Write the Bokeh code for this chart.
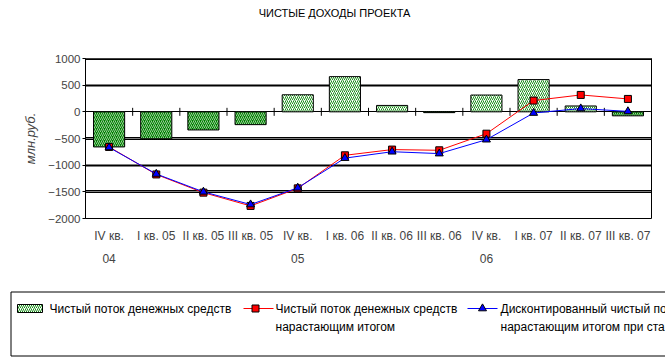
from bokeh.plotting import figure
from bokeh.models import Range1d, FixedTicker
from bokeh.layouts import column, row
from bokeh.embed import file_html
from bokeh.resources import INLINE
from bokeh.core.properties import value

# ---------------- data ----------------
title_text = "ЧИСТЫЕ ДОХОДЫ ПРОЕКТА"
y_label = "млн.руб."
quarters = ["IV кв.\n04", "I кв. 05", "II кв. 05", "III кв. 05",
            "IV кв.\n05", "I кв. 06", "II кв. 06", "III кв. 06",
            "IV кв.\n06", "I кв. 07", "II кв. 07", "III кв. 07"]
cash_flow = [-658, -505, -340, -240, 320, 660, 120, -15, 315, 605, 110, -75]
cumulative = [-658, -1174, -1515, -1764, -1435, -815, -708, -721, -410, 211, 317, 242]
discounted = [-668, -1165, -1500, -1738, -1425, -868, -748, -783, -522, -22, 62, 8]
y_ticks = [1000, 500, 0, -500, -1000, -1500, -2000]
solid_grid = [500, -1000]
dotted_grid = [1000, -500, -1500]
legend_labels = ["Чистый поток денежных средств",
                 "Чистый поток денежных средств\nнарастающим итогом",
                 "Дисконтированный чистый поток денежных средств\nнарастающим итогом при ставке дисконтирования"]

FONT = "Liberation Sans"
GREEN = "#008000"
RED = "#ff0000"
BLUE = "#0000ff"

n = len(quarters)
xs = [i + 0.5 for i in range(n)]
bounds = [i for i in range(1, n)]

W = 665


def blank_fig(h):
    f = figure(width=W, height=h, x_range=Range1d(0, W), y_range=Range1d(h, 0),
               output_backend="svg", toolbar_location=None,
               x_axis_location=None, y_axis_location=None,
               min_border=0, min_border_left=0, min_border_right=0,
               min_border_top=0, min_border_bottom=0)
    f.grid.visible = False
    f.outline_line_color = None
    return f


# ---------------- title ----------------
TH = 40
tf = blank_fig(TH)
tf.text(x=[334], y=[12], text=[title_text], text_font=value(FONT), text_font_size="11px",
        text_align="center", text_baseline="middle", text_color="black")

# ---------------- chart ----------------
CH = 244
p = figure(width=W, height=CH, x_range=Range1d(0, n), y_range=Range1d(-2000, 1000),
           output_backend="svg", toolbar_location=None,
           min_border_left=85, min_border_right=14, min_border_top=18, min_border_bottom=66)
p.grid.visible = False
p.outline_line_color = "black"
p.outline_line_width = 1
p.background_fill_color = "white"

# grid lines
p.hspan(y=dotted_grid, line_color="black", line_width=3)
p.hspan(y=dotted_grid, line_color="white", line_width=1, line_dash="1 1")
p.hspan(y=solid_grid, line_color="black", line_width=2)
p.hspan(y=[0], line_color="black", line_width=1)
p.scatter(x=bounds, y=[0] * len(bounds), marker="dash", angle=1.5708, size=8,
          line_color="black", line_width=1)

# bars
fills = [GREEN if v < 0 else "white" for v in cash_flow]
hatches = ["white" if v < 0 else GREEN for v in cash_flow]
hweights = [0.6 if v < 0 else 0.9 for v in cash_flow]
p.vbar(x=xs, top=cash_flow, bottom=0, width=0.66, fill_color=fills,
       hatch_pattern="/", hatch_color=hatches, hatch_scale=4, hatch_weight=hweights,
       line_color="black", line_width=1)

# lines
p.line(xs, cumulative, line_color=RED, line_width=1)
p.scatter(xs, cumulative, marker="square", size=7, fill_color=RED, line_color="black")
p.line(xs, discounted, line_color=BLUE, line_width=1)
p.scatter(xs, discounted, marker="triangle", size=8, fill_color=BLUE, line_color="black")

# axes
ya = p.yaxis[0]
ya.ticker = FixedTicker(ticks=y_ticks)
ya.major_label_text_font = FONT
ya.major_label_text_font_size = "11.5px"
ya.major_tick_out = 3
ya.major_tick_in = 0
ya.minor_tick_out = 0
ya.minor_tick_in = 0
ya.major_label_standoff = 2
ya.axis_line_color = "black"
ya.axis_label = y_label
ya.axis_label_text_font = FONT
ya.axis_label_text_font_size = "13px"
ya.axis_label_text_font_style = "italic"
ya.axis_label_standoff = 7

xa = p.xaxis[0]
xa.ticker = FixedTicker(ticks=xs)
xa.major_label_overrides = {x: q for x, q in zip(xs, quarters)}
xa.major_label_text_font = FONT
xa.major_label_text_font_size = "12px"
xa.major_label_text_line_height = 1.65
xa.major_tick_out = 0
xa.major_tick_in = 0
xa.minor_tick_out = 0
xa.minor_tick_in = 0
xa.axis_line_color = None
xa.major_label_standoff = 10

# ---------------- legend ----------------
LH = 361 - TH - CH
leg = blank_fig(LH)

leg.quad(left=[10.5], right=[W + 30], top=[7.5], bottom=[71.5], fill_color=None,
         line_color="black", line_width=1)

# item 1: bar swatch
leg.quad(left=[17], right=[42], top=[20], bottom=[28], fill_color="white",
         hatch_pattern="/", hatch_color=GREEN, hatch_scale=4, hatch_weight=0.9,
         line_color="black", line_width=1)
# item 2: red line
leg.line([243, 273], [24, 24], line_color=RED, line_width=1)
leg.scatter([255], [24], marker="square", size=7, fill_color=RED, line_color="black")
# item 3: blue line
leg.line([467, 497], [24, 24], line_color=BLUE, line_width=1)
leg.scatter([482], [24], marker="triangle", size=8, fill_color=BLUE, line_color="black")

text_x = [49, 275, 500]
for lbl, tx in zip(legend_labels, text_x):
    lines = lbl.split("\n")
    leg.text(x=[tx] * len(lines), y=[24 + 18 * k for k in range(len(lines))], text=lines,
             text_font=value(FONT), text_font_size="12px", text_baseline="middle",
             text_align="left", text_color="black")

layout = column(row(tf), p, row(leg))
open("out.html", "w").write(file_html(layout, INLINE))
